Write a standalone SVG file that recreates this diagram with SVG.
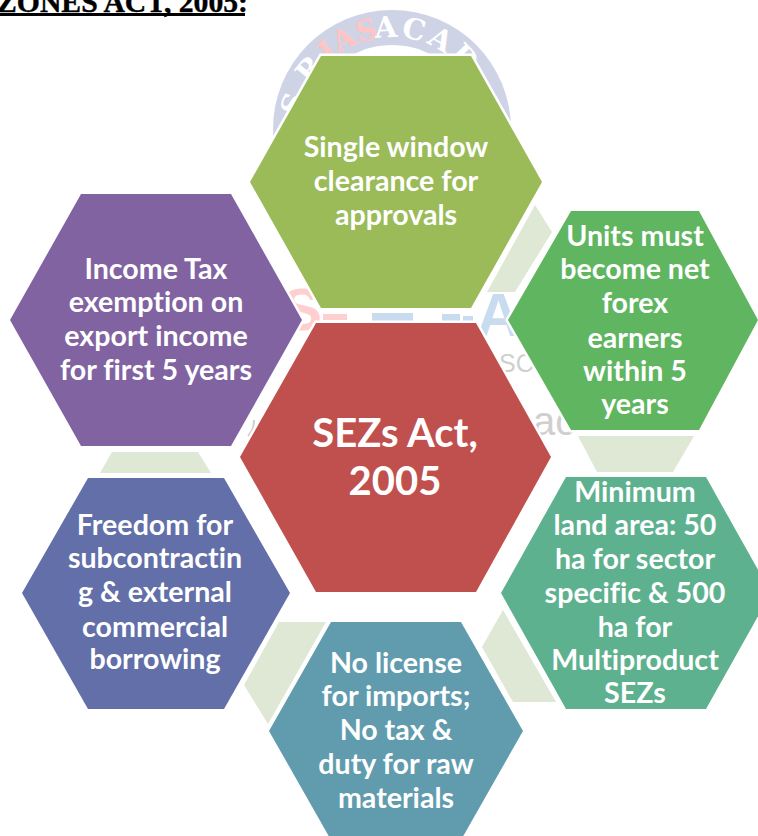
<svg xmlns="http://www.w3.org/2000/svg" width="758" height="836" viewBox="0 0 758 836">
<style>
.hex{stroke:#fff;stroke-width:5;stroke-linejoin:miter;paint-order:stroke}
.conn{fill:#dfe7d5}
.t{font-family:"Lato","Carlito","Open Sans",sans-serif;font-weight:700;font-size:28.6px;fill:#fff;text-anchor:middle;font-variant-ligatures:none}
.big{font-size:40px}
.wm{font-family:"DejaVu Serif","Liberation Serif",serif;font-weight:700;font-size:29px}
.g{font-family:"Liberation Sans",sans-serif;fill:#cfcfcf}
.pb{fill:#c9dbee}
.pk{fill:#ffcfcf}
</style>
<defs>
<path id="arc" d="M 300 129 A 92 92 0 0 1 484 129"/>
</defs>
<rect width="758" height="836" fill="#fff"/>
<g id="heading">
<text x="-3" y="12" font-family="'Liberation Serif',serif" font-weight="700" font-size="29.7px" fill="#000" stroke="#000" stroke-width="0.4">ZONES ACT, 2005:</text>
<rect x="0" y="13" width="245" height="3" fill="#000"/>
</g>
<g id="watermark">
<circle cx="392" cy="129" r="119" fill="#ced3e6"/>
<circle cx="392" cy="129" r="84" fill="#fff"/>
<text class="wm" fill="#fff" letter-spacing="3"><textPath href="#arc" startOffset="127">ACAD</textPath></text>
<text class="wm" fill="#ffc4c4"><textPath href="#arc" startOffset="74">IAS</textPath></text>
<text class="wm" fill="#fff" letter-spacing="12"><textPath href="#arc" startOffset="12">SR</textPath></text>
<text class="pb" x="476" y="336" font-family="'Liberation Sans',sans-serif" font-weight="700" font-size="62px">A</text>
<rect class="pb" x="372" y="313" width="41" height="10"/>
<rect class="pb" x="442" y="314" width="18" height="9"/>
<rect class="pb" x="463" y="316" width="10" height="7"/>
<text class="pk" x="282" y="330" font-family="'Liberation Sans',sans-serif" font-weight="700" font-size="60px">S</text>
<rect class="pk" x="323" y="314" width="24" height="6"/>
<text class="g" x="499" y="372" font-size="25px">SC</text>
<text class="g" x="533" y="435" font-size="40px">ac</text>
<path d="M248 436 Q254 430 254 420" fill="none" stroke="#d0d0d0" stroke-width="2"/>
</g>
<g id="connectors" class="conn">
<polygon points="535,205 552,232 515,292 487,292"/>
<polygon points="578,436 694,436 673,472 597,472"/>
<polygon points="503,610 556,702 513,702 482,647"/>
<polygon points="279,622 326,622 268,724 244,685"/>
<polygon points="112,452 198,452 211,473 100,473"/>
</g>
<g id="node-top">
<polygon class="hex" fill="#9bbb59" points="321,56 471,56 542,182 471,308 321,308 250,182"/>
<text class="t" x="396" y="157">Single window</text><text class="t" x="396" y="191">clearance for</text><text class="t" x="396" y="225">approvals</text>
</g>
<g id="node-units">
<polygon class="hex" fill="#60b560" points="571,211 699,211 758,320 699,430 571,430 508,320"/>
<text class="t" x="635" y="246">Units must</text><text class="t" x="635" y="279">become net</text><text class="t" x="635" y="313">forex</text><text class="t" x="635" y="348">earners</text><text class="t" x="635" y="381">within 5</text><text class="t" x="635" y="414">years</text>
</g>
<g id="node-min">
<polygon class="hex" fill="#5eb18f" points="566,477 706,477 771,593 706,709 566,709 501,593"/>
<text class="t" x="635" y="502">Minimum</text><text class="t" x="635" y="535">land area: 50</text><text class="t" x="635" y="569">ha for sector</text><text class="t" x="635" y="603">specific &amp; 500</text><text class="t" x="635" y="637">ha for</text><text class="t" x="635" y="670">Multiproduct</text><text class="t" x="635" y="703">SEZs</text>
</g>
<g id="node-teal">
<polygon class="hex" fill="#609cae" points="331,622 461,622 523,731 461,840 331,840 269,731"/>
<text class="t" x="396" y="673">No license</text><text class="t" x="396" y="706">for imports;</text><text class="t" x="396" y="740">No tax &amp;</text><text class="t" x="396" y="774">duty for raw</text><text class="t" x="396" y="808">materials</text>
</g>
<g id="node-blue">
<polygon class="hex" fill="#626fa8" points="88,478 224,478 290,593 224,709 88,709 22,593"/>
<text class="t" x="155" y="535">Freedom for</text><text class="t" x="155" y="568">subcontractin</text><text class="t" x="155" y="602">g &amp; external</text><text class="t" x="155" y="637">commercial</text><text class="t" x="155" y="669">borrowing</text>
</g>
<g id="node-purple">
<polygon class="hex" fill="#8163a2" points="81,194 231,194 302,320 231,446 81,446 10,320"/>
<text class="t" x="156" y="279">Income Tax</text><text class="t" x="156" y="312">exemption on</text><text class="t" x="156" y="346">export income</text><text class="t" x="156" y="380">for first 5 years</text>
</g>
<g id="node-center">
<polygon class="hex" fill="#c0504d" points="316,323 476,323 551,457 476,592 316,592 240,457"/>
<text class="t big" x="395" y="447">SEZs Act,</text><text class="t big" x="395" y="495">2005</text>
</g>
</svg>
